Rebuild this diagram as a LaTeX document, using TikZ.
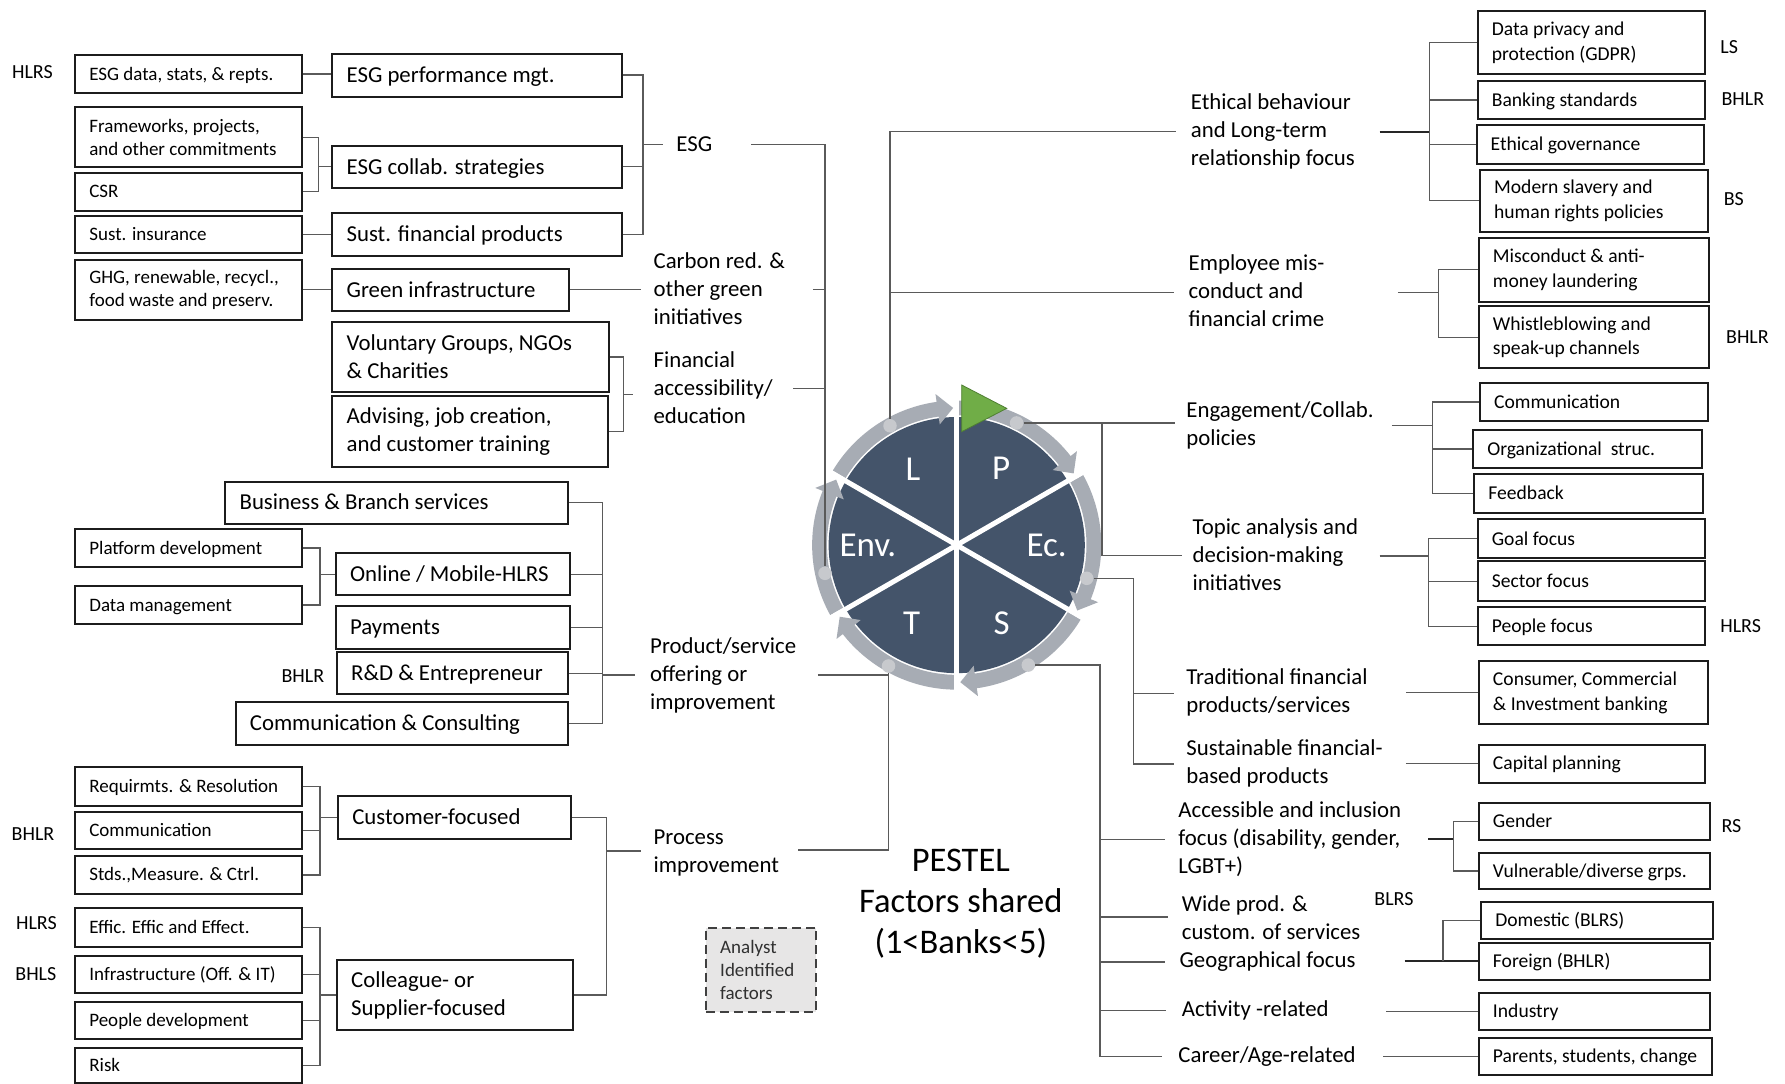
\documentclass[tikz,border=0pt]{standalone}
\usepackage{fontspec}
\setmainfont{Carlito}
\usetikzlibrary{calc}

\definecolor{navy}{HTML}{44546A}
\definecolor{ringgray}{HTML}{A7ACB4}
\definecolor{dotgray}{HTML}{C7C9CD}
\definecolor{leafgreen}{HTML}{70AD47}
\definecolor{leafedge}{HTML}{4F7F32}
\definecolor{linegray}{HTML}{5A5A5A}
\definecolor{boxedge}{HTML}{1C1C1C}
\definecolor{notefill}{HTML}{E7E6E6}
\definecolor{notetext}{HTML}{303030}

\newcommand\fBig{\fontsize{22.8}{28}\selectfont}
\newcommand\fSmall{\fontsize{19}{23}\selectfont}
\newcommand\fRight{\fontsize{19.6}{24.5}\selectfont}
\newcommand\fTag{\fontsize{20}{24}\selectfont}

\tikzset{
  sbox/.style={draw=boxedge, line width=2pt, inner sep=0pt},
  sbox text/.style={font=\fSmall, align=left, inner sep=0pt,
    single/.style={anchor=base west, yshift=-6.1pt}},
  mbox/.style={draw=boxedge, line width=2pt, inner sep=0pt},
  mbox text/.style={font=\fBig, align=left, inner sep=0pt,
    single/.style={anchor=base west, yshift=-7.3pt}},
  rbox/.style={draw=boxedge, line width=2pt, inner sep=0pt},
  rbox text/.style={font=\fRight, align=left, inner sep=0pt,
    single/.style={anchor=base west, yshift=-6.3pt}},
  lbl/.style={font=\fBig, align=left, inner sep=0pt, anchor=west},
  tag/.style={font=\fTag, inner sep=0pt},
  wheel/.style={text=white, font=\fontsize{35}{40}\selectfont, inner sep=0pt},
  dot/.style={circle, fill=dotgray, minimum size=13.5pt, inner sep=0pt},
  ln/.style={draw=linegray, line width=1.3pt},
  lnd/.style={draw=black!85, line width=1.8pt},
}

% box: [text placement]{style}{name}{x1}{y1}{x2}{y2}{text}
\newcommand\bx[8][single]{%
  \node[#2, minimum width={(#6-#4)*1.1384pt}, minimum height={(#7-#5)*1.1384pt}]
    (#3) at ({(#4+#6)/2},{(#5+#7)/2}) {};
  \node[#2 text, #1] (#3-t) at ([xshift=15pt]#3.west) {#8};
}

\begin{document}
\begin{tikzpicture}[x=1.1384pt, y=-1.1384pt]
\useasboundingbox (0,0) rectangle (1568,952);
\fill[white] (0,0) rectangle (1568,952);

% ---------- PESTEL wheel ----------
\begin{scope}[shift={(840.4,478.8)}, yscale=-1]
  \fill[navy] (0,0) circle (112.5);
  \foreach \s in {150,90,30,-30,-90,-150}{
    \pgfmathsetmacro\ringA{\s-1}
    \pgfmathsetmacro\ringB{\s-52}
    \pgfmathsetmacro\ringT{\s-58.5}
    \fill[ringgray] (\ringA:127) arc[start angle=\ringA, end angle=\ringB, radius=127]
      -- (\ringB:134) -- (\ringT:120.5) -- (\ringB:107) -- (\ringB:114)
      arc[start angle=\ringB, end angle=\ringA, radius=114] -- cycle;
  }
  \foreach \g in {90,30,-30}{
    \draw[white, line width=5pt] (\g:137) -- ({\g+180}:137);
  }
  \filldraw[fill=leafgreen, draw=leafedge, line width=0.8pt]
    (4.4,140.6) -- (4.4,99.6) -- (43.9,120.1) -- cycle;
  \node[wheel] (secL) at (120:77) {L};
  \node[wheel] (secP) at (60:78) {P};
  \node[wheel] (secEc) at (0:79) {Ec.};
  \node[wheel] (secS) at (-60:79) {S};
  \node[wheel] (secT) at (-120:79) {T};
  \node[wheel] (secEnv) at (180:78) {Env.};
\end{scope}

\node[dot] (dotL) at (781.8,374) {};
\node[dot] (dotP) at (893,371.5) {};
\node[dot] (dotEc) at (954.6,508) {};
\node[dot] (dotS) at (903.3,584.2) {};
\node[dot] (dotT) at (780.5,585) {};
\node[dot] (dotEnv) at (724.7,503.6) {};

% ---------- left: detail boxes ----------
\bx{sbox}{s1}{66}{48}{265}{82}{ESG data, stats, \& repts.}
\bx[anchor=west]{sbox}{s2}{66}{94}{265}{147}{Frameworks, projects,\\and other commitments}
\bx{sbox}{s3}{66}{152}{265}{185}{CSR}
\bx{sbox}{s4}{66}{190}{265}{222}{Sust. insurance}
\bx[anchor=west]{sbox}{s5}{66}{228}{265}{281}{GHG, renewable, recycl.,\\food waste and preserv.}
\bx{sbox}{s6}{66}{465}{265}{498}{Platform development}
\bx{sbox}{s7}{66}{515}{265}{548}{Data management}
\bx{sbox}{s8}{66}{674}{265}{708}{Requirmts. \& Resolution}
\bx{sbox}{s9}{66}{713}{265}{746}{Communication}
\bx{sbox}{s10}{66}{752}{265}{785}{Stds.,Measure. \& Ctrl.}
\bx{sbox}{s11}{66}{798}{265}{832}{Effic. Effic and Effect.}
\bx{sbox}{s12}{66}{840}{265}{872}{Infrastructure (Off. \& IT)}
\bx{sbox}{s13}{66}{880}{265}{913}{People development}
\bx{sbox}{s14}{66}{921}{265}{951}{Risk}

% ---------- left: group boxes ----------
\bx{mbox}{m1}{292}{47}{546}{85}{ESG performance mgt.}
\bx{mbox}{m2}{292}{128}{546}{165}{ESG collab. strategies}
\bx{mbox}{m3}{292}{187}{546}{225}{Sust. financial products}
\bx{mbox}{m4}{292}{236}{500}{273}{Green infrastructure}
\bx[anchor=west]{mbox}{m5}{292}{283}{535}{344}{Voluntary Groups, NGOs\\\& Charities}
\bx[anchor=west]{mbox}{m6}{292}{348}{534}{410}{Advising, job creation,\\and customer training}
\bx{mbox}{m7}{198}{423}{499}{460}{Business \& Branch services}
\bx{mbox}{m8}{295}{486}{501}{523}{Online / Mobile-HLRS}
\bx{mbox}{m9}{295}{532}{501}{570}{Payments}
\bx{mbox}{m10}{296}{573}{499}{610}{R\&D \& Entrepreneur}
\bx{mbox}{m11}{207}{617}{499}{654}{Communication \& Consulting}
\bx{mbox}{m12}{297}{699}{502}{737}{Customer-focused}
\bx[anchor=west]{mbox}{m13}{296}{843}{503}{905}{Colleague- or\\Supplier-focused}

% ---------- right: detail boxes ----------
\bx[anchor=west]{rbox}{r1}{1298}{10}{1498}{65}{Data privacy and\\protection (GDPR)}
\bx{rbox}{r2}{1298}{71}{1498}{104.5}{Banking standards}
\bx{rbox}{r3}{1297}{110}{1497}{144}{Ethical governance}
\bx[anchor=west]{rbox}{r4}{1300}{149}{1500}{203.5}{Modern slavery and\\human rights policies}
\bx[anchor=west]{rbox}{r5}{1299}{209}{1501}{265}{Misconduct \& anti-\\money laundering}
\bx[anchor=west]{rbox}{r6}{1299}{269}{1501}{323.5}{Whistleblowing and\\speak-up channels}
\bx{rbox}{r7}{1300}{336}{1500}{370}{Communication}
\bx{rbox}{r8}{1294}{378}{1495}{411}{Organizational\ \ struc.}
\bx{rbox}{r9}{1295}{416}{1496}{451}{Feedback}
\bx{rbox}{r10}{1298}{456}{1498}{490.5}{Goal focus}
\bx{rbox}{r11}{1298}{493}{1498}{528}{Sector focus}
\bx{rbox}{r12}{1298}{533.5}{1498}{567}{People focus}
\bx[anchor=west]{rbox}{r13}{1299}{581}{1500}{636}{Consumer, Commercial\\\& Investment banking}
\bx{rbox}{r14}{1299}{654}{1498}{687.5}{Capital planning}
\bx{rbox}{r15}{1299}{705}{1502}{738}{Gender}
\bx{rbox}{r16}{1299}{749}{1502}{781}{Vulnerable/diverse grps.}
\bx{rbox}{r17}{1301}{792}{1505}{825}{Domestic (BLRS)}
\bx{rbox}{r18}{1299}{828}{1502}{861}{Foreign (BHLR)}
\bx{rbox}{r19}{1299}{872}{1502}{905}{Industry}
\bx{rbox}{r20}{1299}{911.5}{1504}{944.5}{Parents, students, change}

% ---------- bank tags ----------
\node[tag] (tg1) at (28.5,63) {HLRS};
\node[tag] (tg2) at (266,594) {BHLR};
\node[tag] (tg3) at (29,733) {BHLR};
\node[tag] (tg4) at (32,811) {HLRS};
\node[tag] (tg5) at (31.5,856) {BHLS};
\node[tag] (tg6) at (1519,41) {LS};
\node[tag] (tg7) at (1531,87) {BHLR};
\node[tag] (tg8) at (1523,175) {BS};
\node[tag] (tg9) at (1535,296) {BHLR};
\node[tag] (tg10) at (1529,550) {HLRS};
\node[tag] (tg11) at (1521,726) {RS};
\node[tag] (tg12) at (1224.5,790) {BLRS};

% ---------- factor labels ----------
\node[lbl] (esg) at (594,126.5) {ESG};
\node[lbl] (carbon) at (574,253.5) {Carbon red. \&\\other green\\initiatives};
\node[lbl] (finacc) at (574,340.5) {Financial\\accessibility/\\education};
\node[lbl] (prodsvc) at (571,593) {Product/service\\offering or\\improvement};
\node[lbl] (procimp) at (574,749) {Process\\improvement};
\node[lbl] (ethical) at (1046,115.5) {Ethical behaviour\\and Long-term\\relationship focus};
\node[lbl] (employee) at (1044,255.6) {Employee mis-\\conduct and\\financial crime};
\node[lbl] (engage) at (1042,374) {Engagement/Collab.\\policies};
\node[lbl] (topic) at (1047.5,487.2) {Topic analysis and\\decision-making\\initiatives};
\node[lbl] (tradfin) at (1042,608.4) {Traditional financial\\products/services};
\node[lbl] (sustfin) at (1042,671) {Sustainable financial-\\based products};
\node[lbl] (access) at (1035,737) {Accessible and inclusion\\focus (disability, gender,\\LGBT+)};
\node[lbl] (wide) at (1038,806) {Wide prod. \&\\custom. of services};
\node[lbl] (geo) at (1036,845) {Geographical focus};
\node[lbl] (activity) at (1038,887.3) {Activity -related};
\node[lbl] (career) at (1035,928) {Career/Age-related};

% ---------- title and legend ----------
\node[font=\fontsize{34.5}{41}\selectfont, align=center, inner sep=0pt] (title) at (844,793.5)
  {PESTEL\\Factors shared\\(1<Banks<5)};
\node[draw=black!75, fill=notefill, line width=1.6pt, dash pattern=on 9pt off 5pt,
      minimum width={(717-620)*1.1384pt}, minimum height={(889-815)*1.1384pt}, inner sep=0pt]
  (analyst) at (668.5,852) {};
\node[font=\fSmall, text=notetext, align=left, anchor=west, inner sep=0pt]
  (analyst-t) at ([xshift=15pt]analyst.west) {Analyst\\Identified\\factors};

% ---------- junction and end points ----------
\coordinate (bk1) at (280,146.5);
\coordinate (bk2) at (564.7,126.8);
\coordinate (esgIn) at (582.4,126.8);
\coordinate (carbIn) at (562.7,254.5);
\coordinate (bk3) at (548,346.5);
\coordinate (finIn) at (556,346.5);
\coordinate (bk5) at (281,504.5);
\coordinate (bk4) at (529,593);
\coordinate (prodIn) at (558,593);
\coordinate (bk6) at (281,718);
\coordinate (bk7) at (281,874);
\coordinate (bk8) at (532.5,747.6);
\coordinate (procIn) at (562.7,747.6);

\coordinate (esgOut) at (660,126.8);
\coordinate (carbOut) at (714,254.5);
\coordinate (finOut) at (697,341);
\coordinate (prodOut) at (718.5,593);
\coordinate (procOut) at (701,746.7);
\coordinate (ethIn) at (1033,115.7);
\coordinate (empIn) at (1031,256.8);
\coordinate (pJ) at (968,488);
\coordinate (engIn) at (1032,371.5);
\coordinate (topicIn) at (1038,488);
\coordinate (ecJ) at (995.6,671);
\coordinate (tradIn) at (1031,609);
\coordinate (sustIn) at (1031,671);
\coordinate (sJ) at (966.3,928);
\coordinate (accIn) at (1023,737.3);
\coordinate (wideIn) at (1026,805.5);
\coordinate (geoIn) at (1023,845);
\coordinate (actIn) at (1024,887.5);
\coordinate (carIn) at (1021,928);

\coordinate (ethOut) at (1212,116.2);   \coordinate (bkE) at (1255.7,116.2);
\coordinate (empOut) at (1228,256.8);   \coordinate (bkM) at (1263.6,256.8);
\coordinate (engOut) at (1222.6,373.9); \coordinate (bkG) at (1258.2,373.9);
\coordinate (topicOut) at (1212,488.4); \coordinate (bkT) at (1254.6,488.4);
\coordinate (tradOut) at (1235.4,608.5);
\coordinate (sustOut) at (1235,670.75);
\coordinate (accOut) at (1254.8,737.3); \coordinate (bkA) at (1277,737.3);
\coordinate (geoOut) at (1233.8,844.5); \coordinate (bkD) at (1267.6,844.5);
\coordinate (actOut) at (1217.6,888.5);
\coordinate (carOut) at (1215,928);

% ---------- left connectors ----------
\draw[ln] (s1.east) -- (s1.east -| m1.west);
\draw[ln] (s2.east) -| (bk1) |- (s3.east);
\draw[ln] (bk1) -- (bk1 -| m2.west);
\draw[ln] (s4.east) -- (s4.east -| m3.west);
\draw[ln] (s5.east) -- (s5.east -| m4.west);
\draw[ln] (m1.east) -| (bk2) |- (m3.east);
\draw[ln] (m2.east) -- (m2.east -| bk2);
\draw[ln] (bk2) -- (esgIn);
\draw[ln] (m4.east) -- (carbIn);
\draw[ln] (m5.east) -| (bk3) |- (m6.east);
\draw[ln] (bk3) -- (finIn);
\draw[ln] (s6.east) -| (bk5) |- (s7.east);
\draw[ln] (bk5) -- (bk5 -| m8.west);
\draw[ln] (m7.east) -| (bk4) |- (m11.east);
\draw[ln] (m8.east) -- (m8.east -| bk4);
\draw[ln] (m9.east) -- (m9.east -| bk4);
\draw[ln] (m10.east) -- (m10.east -| bk4);
\draw[ln] (bk4) -- (prodIn);
\draw[ln] (s8.east) -| (bk6) |- (s10.east);
\draw[ln] (s9.east) -- (s9.east -| bk6);
\draw[ln] (bk6) -- (bk6 -| m12.west);
\draw[ln] (s11.east) -| (bk7) |- (s14.east);
\draw[ln] (s12.east) -- (s12.east -| bk7);
\draw[ln] (s13.east) -- (s13.east -| bk7);
\draw[ln] (bk7) -- (bk7 -| m13.west);
\draw[ln] (m12.east) -| (bk8) |- (m13.east);
\draw[ln] (bk8) -- (procIn);

% ---------- wheel connectors ----------
\draw[ln] (esgOut) -| (dotEnv);
\draw[ln] (carbOut) -- (carbOut -| dotEnv);
\draw[ln] (finOut) -- (finOut -| dotEnv);
\draw[ln] (ethIn) -| (dotL);
\draw[ln] (empIn) -- (empIn -| dotL);
\draw[ln] (procOut) -| (dotT);
\draw[ln] (prodOut) -- (prodOut -| dotT);
\draw[ln] (dotP) -| (pJ) -- (topicIn);
\draw[ln] (dotP -| pJ) -- (engIn);
\draw[ln] (dotEc) -| (ecJ) -- (sustIn);
\draw[ln] (tradIn -| ecJ) -- (tradIn);
\draw[ln] (dotS) -| (sJ) -- (carIn);
\draw[ln] (accIn -| sJ) -- (accIn);
\draw[ln] (wideIn -| sJ) -- (wideIn);
\draw[ln] (geoIn -| sJ) -- (geoIn);
\draw[ln] (actIn -| sJ) -- (actIn);

% ---------- right connectors ----------
\draw[lnd] (ethOut) -- (bkE);
\draw[ln] (r1.west) -| (bkE) |- (r4.west);
\draw[ln] (r2.west) -- (r2.west -| bkE);
\draw[ln] (r3.west) -- (r3.west -| bkE);
\draw[ln] (empOut) -- (bkM);
\draw[ln] (r5.west) -| (bkM) |- (r6.west);
\draw[ln] (engOut) -- (bkG);
\draw[ln] (r7.west) -| (bkG) |- (r9.west);
\draw[ln] (r8.west) -- (r8.west -| bkG);
\draw[ln] (topicOut) -- (bkT);
\draw[ln] (r10.west) -| (bkT) |- (r12.west);
\draw[ln] (r11.west) -- (r11.west -| bkT);
\draw[ln] (tradOut) -- (r13.west);
\draw[ln] (sustOut) -- (r14.west);
\draw[lnd] (accOut) -- (bkA);
\draw[ln] (r15.west) -| (bkA) |- (r16.west);
\draw[lnd] (geoOut) -- (r18.west);
\draw[ln] (bkD) |- (r17.west);
\draw[ln] (actOut) -- (r19.west);
\draw[ln] (carOut) -- (r20.west);
\end{tikzpicture}
\end{document}
